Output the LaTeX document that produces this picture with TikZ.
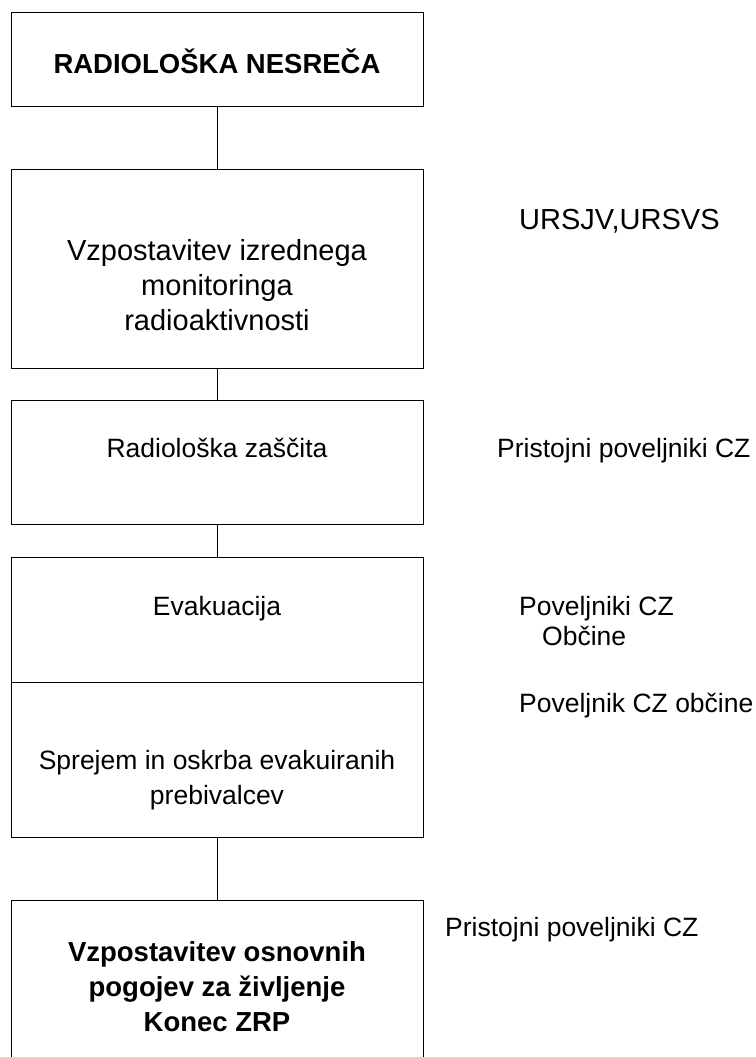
\documentclass[tikz,border=0pt]{standalone}
\usepackage{fontspec}
\setmainfont{Liberation Sans}
\begin{document}
\begin{tikzpicture}[x=1pt,y=-1pt,
  box/.style={draw,line width=1.4pt,rectangle,inner sep=0pt,anchor=north west},
  conn/.style={line width=1.4pt},
  lbl/.style={inner sep=0pt,anchor=base,align=center,font=\fontsize{26.5}{34.7}\selectfont},
  lblbig/.style={lbl,font=\fontsize{29}{34.7}\selectfont},
  lblbold/.style={lbl,font=\fontsize{27.5}{34.7}\selectfont\bfseries},
  side/.style={inner sep=0pt,anchor=base west,font=\fontsize{26.5}{34.7}\selectfont}]
\useasboundingbox (0,0) rectangle (755,1057);
% boxes
\node[box,minimum width=412pt,minimum height=94pt] (b1) at (11,12) {};
\node[box,minimum width=412pt,minimum height=199pt] (b2) at (11,169) {};
\node[box,minimum width=412pt,minimum height=124pt] (b3) at (11,400) {};
\node[box,minimum width=412pt,minimum height=125pt] (b4) at (11,557) {};
\node[box,minimum width=412pt,minimum height=155pt] (b5) at (11,682) {};
\node[box,minimum width=412pt,minimum height=180pt] (b6) at (11,900) {};
% connectors
\draw[conn] (b1.south) -- (b2.north);
\draw[conn] (b2.south) -- (b3.north);
\draw[conn] (b3.south) -- (b4.north);
\draw[conn] (b5.south) -- (b6.north);
% box texts (base anchor = baseline of last line)
\node[lblbold] (t1) at (217,74) {RADIOLOŠKA NESREČA};
\node[lblbig] (t2) at (217,330) {Vzpostavitev izrednega\\monitoringa\\radioaktivnosti};
\node[lbl] (t3) at (217,457) {Radiološka zaščita};
\node[lbl] (t4) at (217,615) {Evakuacija};
\node[lbl] (t5) at (217,804) {Sprejem in oskrba evakuiranih\\prebivalcev};
\node[lblbold] (t6) at (217,1031) {Vzpostavitev osnovnih\\pogojev za življenje\\Konec ZRP};
% side texts
\node[side,font=\fontsize{29}{34.7}\selectfont] (s2) at (519,229) {URSJV,URSVS};
\node[side] (s3) at (497,457) {Pristojni poveljniki CZ};
\node[side] (s4a) at (519,615) {Poveljniki CZ};
\node[side] (s4b) at (542,645) {Občine};
\node[side] (s5) at (519,712) {Poveljnik CZ občine};
\node[side] (s6) at (445,936) {Pristojni poveljniki CZ};
\end{tikzpicture}
\end{document}
